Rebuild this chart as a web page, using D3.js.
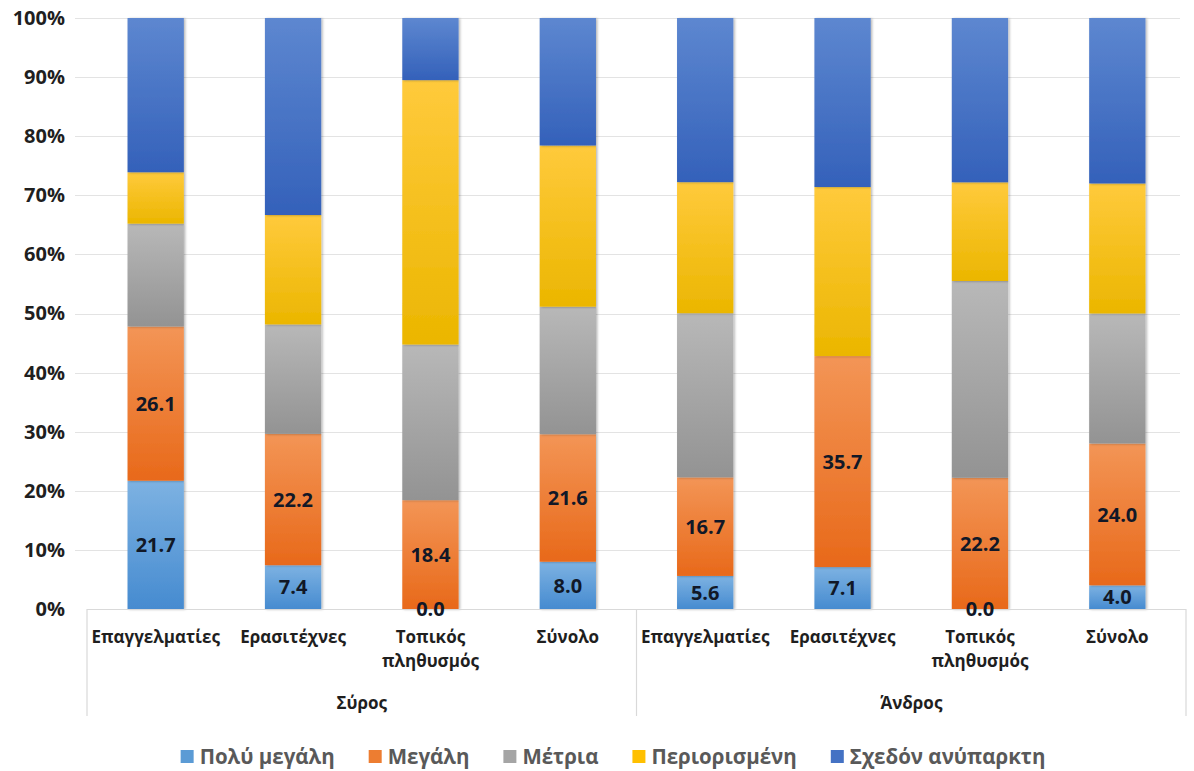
<!DOCTYPE html>
<html>
<head>
<meta charset="utf-8">
<script src="https://cdn.jsdelivr.net/npm/d3@7/dist/d3.min.js"></script>
<style>
  html, body { margin: 0; padding: 0; background: #ffffff; }
  svg { display: block; }
  text { font-family: "Open Sans", "Liberation Sans", sans-serif; }
</style>
</head>
<body>
<svg id="chart" width="1194" height="771"></svg>
<script>
// ---- Data (percent values) ----
const categories = ["Επαγγελματίες", "Ερασιτέχνες", "Τοπικός πληθυσμός", "Σύνολο",
                    "Επαγγελματίες", "Ερασιτέχνες", "Τοπικός πληθυσμός", "Σύνολο"];
const groups = ["Σύρος", "Άνδρος"];
const groupOf = [0, 0, 0, 0, 1, 1, 1, 1];
const seriesNames = ["Πολύ μεγάλη", "Μεγάλη", "Μέτρια", "Περιορισμένη", "Σχεδόν ανύπαρκτη"];
const polyMegali   = [21.7, 7.4, 0.0, 8.0, 5.6, 7.1, 0.0, 4.0];
const megali       = [26.1, 22.2, 18.4, 21.6, 16.7, 35.7, 22.2, 24.0];
const metria       = [17.4, 18.5, 26.3, 21.6, 27.8, 0.0, 33.3, 22.0];
const periorismeni = [8.7, 18.5, 44.7, 27.3, 22.2, 28.6, 16.7, 22.0];
const sxedon       = [26.1, 33.3, 10.5, 21.6, 27.8, 28.6, 27.8, 28.0];
const labeledSeries = ["Πολύ μεγάλη", "Μεγάλη"];
const yTicks = [0, 0.1, 0.2, 0.3, 0.4, 0.5, 0.6, 0.7, 0.8, 0.9, 1.0];

const seriesValues = [polyMegali, megali, metria, periorismeni, sxedon];
const colors = [
  ["#7db2e2", "#468bd0"],
  ["#f39556", "#e8691a"],
  ["#b8b8b8", "#939393"],
  ["#ffca3c", "#ebb600"],
  ["#5d87d0", "#3461ba"]
];
const legendColors = ["#5b9bd5", "#ed7d31", "#a5a5a5", "#ffc000", "#4472c4"];

// table for the stack
const keys = categories.map((c, i) => i);
const table = keys.map(i => {
  const row = { idx: i };
  seriesNames.forEach((s, k) => row[s] = seriesValues[k][i]);
  return row;
});

const svg = d3.select("#chart");
const margin = { left: 87, right: 1186, top: 18, bottom: 609 };

const x = d3.scaleBand().domain(keys).range([margin.left, margin.right])
  .paddingInner(0.59).paddingOuter(0.295);
const y = d3.scaleLinear().domain([0, 1]).range([margin.bottom, margin.top]);

const defs = svg.append("defs");
colors.forEach((c, k) => {
  const g = defs.append("linearGradient").attr("id", "grad" + k)
    .attr("x1", 0).attr("y1", 0).attr("x2", 0).attr("y2", 1);
  g.append("stop").attr("offset", "0%").attr("stop-color", c[0]);
  g.append("stop").attr("offset", "100%").attr("stop-color", c[1]);
});
const filt = defs.append("filter").attr("id", "shadow")
  .attr("x", "-20%").attr("y", "-5%").attr("width", "140%").attr("height", "110%");
filt.append("feDropShadow").attr("dx", 1.5).attr("dy", 0.5).attr("stdDeviation", 1.2)
  .attr("flood-color", "#000").attr("flood-opacity", 0.28);

// gridlines
svg.append("g").selectAll("line").data(yTicks.filter(t => t > 0)).join("line")
  .attr("x1", margin.left - 12).attr("x2", margin.right - 6)
  .attr("y1", d => Math.round(y(d)) + 0.5).attr("y2", d => Math.round(y(d)) + 0.5)
  .attr("stroke", "#e3e3e3").attr("stroke-width", 1.2);

// y axis labels
const yAxis = d3.axisLeft(y).tickValues(yTicks).tickFormat(d3.format(".0%")).tickSize(0).tickPadding(0);
const yg = svg.append("g").attr("transform", `translate(${margin.left - 22},0)`).call(yAxis);
yg.select(".domain").remove();
yg.selectAll("text").attr("font-size", 20).attr("font-weight", "bold").attr("fill", "#1f1f1f")
  .attr("font-family", "'Open Sans', sans-serif");

// stack
const stack = d3.stack().keys(seriesNames).offset(d3.stackOffsetExpand);
const stacked = stack(table);

const barsG = svg.append("g");
stacked.forEach((layer, k) => {
  barsG.append("g").attr("fill", `url(#grad${k})`).attr("filter", "url(#shadow)")
    .selectAll("rect").data(layer).join("rect")
    .attr("x", d => x(d.data.idx))
    .attr("width", x.bandwidth())
    .attr("y", d => y(d[1]))
    .attr("height", d => Math.max(0, y(d[0]) - y(d[1])));
});

// category axis box
const axisG = svg.append("g");
axisG.append("line").attr("x1", margin.left).attr("x2", margin.right)
  .attr("y1", margin.bottom + 0.5).attr("y2", margin.bottom + 0.5)
  .attr("stroke", "#d9d9d9").attr("stroke-width", 1.2);
const boundaries = [0, 4, 8].map(i => i === 8 ? margin.right : x(i) - x.step() * x.paddingInner() / 2);
boundaries.forEach(bx => {
  axisG.append("line").attr("x1", bx).attr("x2", bx)
    .attr("y1", margin.bottom).attr("y2", 716)
    .attr("stroke", "#d9d9d9").attr("stroke-width", 1.2);
});

// category labels (wrap at space for long names)
keys.forEach(i => {
  const cx = x(i) + x.bandwidth() / 2;
  const words = categories[i].split(" ");
  const lines = categories[i].length > 14 ? words : [categories[i]];
  const t = axisG.append("text").attr("x", cx).attr("y", 643)
    .attr("text-anchor", "middle").attr("font-size", 17).attr("font-weight", "bold")
    .attr("fill", "#1f1f1f");
  lines.forEach((w, j) => t.append("tspan").attr("x", cx).attr("dy", j === 0 ? 0 : 24).text(w));
});

// group labels
groups.forEach((g, gi) => {
  const idxs = keys.filter(i => groupOf[i] === gi);
  const cx = (x(idxs[0]) + x(idxs[idxs.length - 1]) + x.bandwidth()) / 2;
  axisG.append("text").attr("x", cx).attr("y", 709).attr("text-anchor", "middle")
    .attr("font-size", 17).attr("font-weight", "bold").attr("fill", "#1f1f1f").text(g);
});

// data labels
const labelG = svg.append("g");
stacked.forEach((layer, k) => {
  if (!labeledSeries.includes(layer.key)) return;
  labelG.selectAll(null).data(layer).join("text")
    .attr("x", d => x(d.data.idx) + x.bandwidth() / 2)
    .attr("y", d => (y(d[0]) + y(d[1])) / 2)
    .attr("dy", "0.36em")
    .attr("text-anchor", "middle")
    .attr("font-size", 20).attr("font-weight", "bold").attr("fill", "#111827")
    .text(d => d3.format(".1f")(d.data[layer.key]));
});

// legend
const legendG = svg.append("g");
let lx = 0;
const gap = 34;
seriesNames.forEach((s, k) => {
  const g = legendG.append("g");
  g.append("rect").attr("x", 0).attr("y", -14).attr("width", 13).attr("height", 13)
    .attr("fill", legendColors[k]);
  const t = g.append("text").attr("x", 19).attr("y", 0).attr("font-size", 20.5)
    .attr("font-weight", "bold").attr("fill", "#595959").text(s);
  const w = 19 + t.node().getComputedTextLength();
  g.attr("transform", `translate(${lx},0)`);
  lx += w + gap;
});
const totalW = lx - gap;
legendG.attr("transform", `translate(${613 - totalW / 2},764)`);
</script>
</body>
</html>
